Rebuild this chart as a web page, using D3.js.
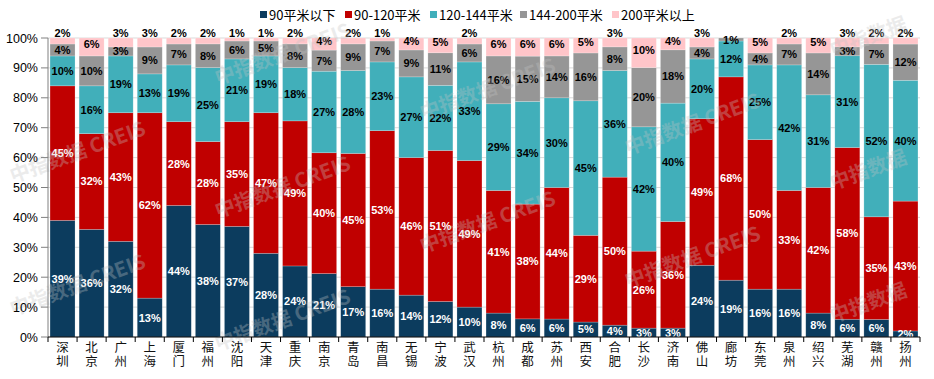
<!DOCTYPE html>
<html><head><meta charset="utf-8">
<script src="https://cdn.jsdelivr.net/npm/d3@7"></script>
<style>
body{margin:0;background:#fff;}
svg{display:block;font-family:"Liberation Sans",Arial,sans-serif;}
</style></head>
<body><svg id="c" width="934" height="379"></svg>
<script>
const cities = ["深圳","北京","广州","上海","厦门","福州","沈阳","天津","重庆","南京","青岛","南昌","无锡","宁波","武汉","杭州","成都","苏州","西安","合肥","长沙","济南","佛山","廊坊","东莞","泉州","绍兴","芜湖","赣州","扬州"];
const seriesNames = ["90平米以下","90-120平米","120-144平米","144-200平米","200平米以上"];
const s90   = [39,36,32,13,44,38,37,28,24,21,17,16,14,12,10,8,6,6,5,4,3,3,24,19,16,16,8,6,6,2];
const s120  = [45,32,43,62,28,28,35,47,49,40,45,53,46,51,49,41,38,44,29,50,26,36,49,68,50,33,42,58,35,43];
const s144  = [10,16,19,13,19,25,21,19,18,27,28,23,27,22,33,29,34,30,45,36,42,40,20,12,25,42,31,31,52,40];
const s200  = [4,10,3,9,7,8,6,5,8,7,9,7,9,11,6,16,15,14,16,8,20,18,4,1,4,7,14,3,7,12];
const sTop  = [2,6,3,3,2,2,1,1,2,4,2,1,4,5,2,6,6,6,5,3,10,4,3,0,5,2,5,3,2,2];
const yTicks = [0,10,20,30,40,50,60,70,80,90,100];
const watermark = "中指数据 CREIS";
const watermarkShort = "中指数据";
const colors = ["#0C3C5E","#C00000","#41AFBA","#969696","#FFC5C9"];
const labelColors = ["#fff","#fff","#000","#000","#000"];

const svg = d3.select("#c");
const W=934,H=379, m={l:48,r:14,t:38,b:42};
const x = d3.scaleBand().domain(cities).range([m.l, W-m.r]).paddingInner(0.14).paddingOuter(0.07);
const y = d3.scaleLinear().domain([0,1]).range([H-m.b, m.t]);

const rows = cities.map((c,i)=>({city:c, k0:s90[i],k1:s120[i],k2:s144[i],k3:s200[i],k4:sTop[i]}));
const keys=["k0","k1","k2","k3","k4"];
const stack = d3.stack().keys(keys).offset(d3.stackOffsetExpand)(rows);

// grid
svg.append("g").selectAll("line").data(yTicks.slice(1)).join("line")
  .attr("x1",m.l).attr("x2",W-m.r).attr("y1",d=>y(d/100)).attr("y2",d=>y(d/100))
  .attr("stroke","#d9d9d9").attr("stroke-width",1);

// bars
const g = svg.append("g");
stack.forEach((layer,li)=>{
  g.append("g").selectAll("rect").data(layer).join("rect")
    .attr("x",d=>x(d.data.city)).attr("width",x.bandwidth())
    .attr("y",d=>y(d[1])).attr("height",d=>Math.max(0,y(d[0])-y(d[1])))
    .attr("fill",colors[li]).attr("stroke","rgba(255,255,255,0.35)").attr("stroke-width",0.6);
});
// labels
stack.forEach((layer,li)=>{
  g.append("g").selectAll("text").data(layer.filter(d=>d.data[keys[li]]>0)).join("text")
    .attr("x",d=>x(d.data.city)+x.bandwidth()/2)
    .attr("y",d=>{
      const v=d.data[keys[li]];
      let c=(y(d[0])+y(d[1]))/2;
      if(li===4){ c = v<=3 ? 33 : c-3; }
      if(li===3 && v<=1) c = 40;
      return c;
    })
    .attr("dy","0.36em").attr("text-anchor","middle")
    .attr("font-size",11).attr("font-weight","bold")
    .attr("fill",labelColors[li])
    .text(d=>d.data[keys[li]]+"%");
});

// watermarks (grid, drawn on top, semi-transparent)
const wmPos=[];
for(let c=0;c<5;c++){
  for(let r=-1;r<3;r++){
    const x0=13+205*c, y0=50+35*c+133*r;
    if(y0>55 && y0<372) wmPos.push([x0,y0,c===4]);
  }
}
svg.append("g").selectAll("text").data(wmPos).join("text")
  .attr("transform",d=>`translate(${d[0]},${d[1]}) rotate(-20)`)
  .attr("font-size",20).attr("font-weight","bold").attr("fill","#c4c4c4").attr("opacity",0.32)
  .attr("font-family","'Noto Sans CJK SC',sans-serif")
  .text(d=>d[2]?watermarkShort:watermark);

// y axis
const ya = svg.append("g");
ya.append("line").attr("x1",m.l).attr("x2",m.l).attr("y1",y(0)).attr("y2",y(1)).attr("stroke","#808080");
ya.selectAll(".t").data(yTicks).join("line").attr("x1",m.l-7).attr("x2",m.l).attr("y1",d=>y(d/100)).attr("y2",d=>y(d/100)).attr("stroke","#808080");
ya.selectAll("text").data(yTicks).join("text").attr("x",m.l-10).attr("y",d=>y(d/100)).attr("dy","0.36em")
  .attr("text-anchor","end").attr("font-size",12.5).attr("fill","#000").text(d=>d+"%");

// x axis
const xa = svg.append("g");
xa.append("line").attr("x1",m.l).attr("x2",W-m.r).attr("y1",y(0)).attr("y2",y(0)).attr("stroke","#000").attr("stroke-width",1.2);
const bounds = d3.range(cities.length+1).map(i=> m.l + (W-m.r-m.l)*i/cities.length);
xa.selectAll(".tk").data(bounds).join("line").attr("x1",d=>d).attr("x2",d=>d).attr("y1",y(0)).attr("y2",y(0)+5).attr("stroke","#000");
xa.selectAll("text").data(cities).join("text")
  .attr("x",d=>x(d)+x.bandwidth()/2).attr("y",y(0)+4)
  .style("writing-mode","vertical-rl")
  .attr("letter-spacing","1.8px")
  .attr("font-size",12.5).attr("fill","#111")
  .attr("font-family","'Noto Sans CJK SC',sans-serif")
  .text(d=>d);

// legend
const lx=[260,345,430,520,612];
const lg = svg.append("g");
seriesNames.forEach((n,i)=>{
  lg.append("rect").attr("x",lx[i]).attr("y",11).attr("width",7).attr("height",7).attr("fill",colors[i]);
  lg.append("text").attr("x",lx[i]+9).attr("y",15).attr("dy","0.36em").attr("font-size",13).attr("fill","#000")
    .attr("font-family","'Noto Sans CJK SC','Liberation Sans',sans-serif").text(n);
});
</script></body></html>
